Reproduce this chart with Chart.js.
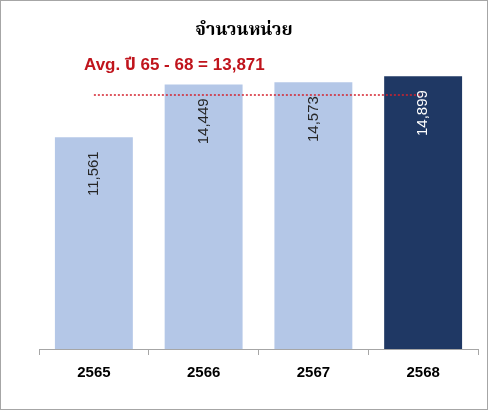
<!DOCTYPE html>
<html>
<head>
<meta charset="utf-8">
<script src="https://cdn.jsdelivr.net/npm/chart.js@4.4.1/dist/chart.umd.min.js"></script>
<style>
  body { margin: 0; background: #fff; }
  #wrap { width: 488px; height: 410px; box-sizing: border-box; border: 1px solid #a6a6a6; position: relative; }
  canvas { display: block; }
</style>
</head>
<body>
<div id="wrap"><canvas id="unitChart" width="486" height="408"></canvas></div>
<script>
const years = ["2565", "2566", "2567", "2568"];
const units = [11561, 14449, 14573, 14899];
const avgUnits = 13871;
const avgLabel = "Avg. ปี 65 - 68 = 13,871";
const chartTitle = "จำนวนหน่วย";

const lightBar = "#b4c7e7";
const darkBar = "#1f3864";

function fmt(n) {
  return n.toLocaleString("en-US");
}

// labels inside bars, rotated, plus title and avg text
const labelPlugin = {
  id: "labels",
  afterDatasetsDraw(chart) {
    const ctx = chart.ctx;
    const meta = chart.getDatasetMeta(1);
    ctx.save();
    ctx.font = "15px 'Liberation Sans', Arial, sans-serif";
    meta.data.forEach((bar, i) => {
      ctx.save();
      ctx.translate(bar.x, bar.y + 14);
      ctx.rotate(-Math.PI / 2);
      ctx.textAlign = "right";
      ctx.textBaseline = "middle";
      ctx.fillStyle = i === units.length - 1 ? "#ffffff" : "#262626";
      ctx.fillText(fmt(units[i]), 0, 0);
      ctx.restore();
    });

    ctx.textBaseline = "middle";
    ctx.textAlign = "center";
    ctx.fillStyle = "#000";
    ctx.font = "bold 18px 'Noto Serif Thai', 'Noto Sans Thai', Tahoma, serif";
    ctx.fillText(chartTitle, 243, 31);

    ctx.textAlign = "left";
    ctx.fillStyle = "#c0141c";
    ctx.font = "bold 17px 'Liberation Sans', Arial, 'Noto Sans Thai', sans-serif";
    ctx.fillText(avgLabel, 83, 64);
    ctx.restore();
  }
};

new Chart(document.getElementById("unitChart"), {
  data: {
    labels: years,
    datasets: [
      {
        type: "line",
        data: years.map(() => avgUnits),
        borderColor: "#d3222e",
        borderWidth: 1.5,
        borderDash: [2, 2],
        pointRadius: 0,
        fill: false,
        order: 0
      },
      {
        type: "bar",
        data: units,
        backgroundColor: units.map((v, i) => i === units.length - 1 ? darkBar : lightBar),
        barPercentage: 0.71,
        categoryPercentage: 1,
        order: 1
      }
    ]
  },
  options: {
    responsive: false,
    animation: false,
    layout: { padding: { left: 38, right: 9, top: 55, bottom: 18 } },
    plugins: {
      legend: { display: false },
      tooltip: { enabled: false }
    },
    scales: {
      x: {
        grid: {
          drawOnChartArea: false,
          drawTicks: true,
          tickLength: 6,
          color: "#a6a6a6",
          offset: true
        },
        border: { color: "#a6a6a6" },
        ticks: {
          color: "#000",
          padding: 9,
          font: { family: "'Liberation Sans', Arial, sans-serif", size: 15, weight: "bold" }
        }
      },
      y: {
        display: false,
        min: 0,
        max: 16000
      }
    }
  },
  plugins: [labelPlugin]
});
</script>
</body>
</html>
